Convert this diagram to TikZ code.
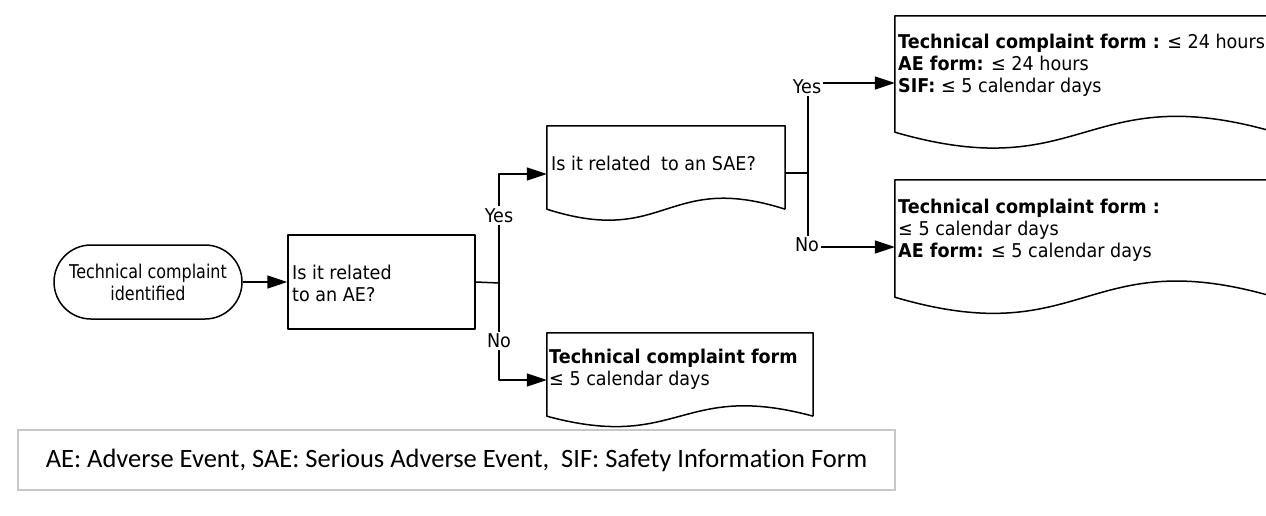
\documentclass[tikz,border=0pt]{standalone}
\usepackage{fontspec}
\setmainfont{DejaVu Sans}[FakeStretch=0.925]
\newfontfamily\termfont{DejaVu Sans}[FakeStretch=0.84]
\newfontfamily\footfont{Carlito}[Ligatures=NoCommon]
\usetikzlibrary{arrows.meta,calc}
\newcommand\drawdoc[2]{%
  \draw[lineb] (#1.south east) -- (#1.north east) -- (#1.north west) -- (#1.south west)
    .. controls ($(#1.south)+(0,#2)$) and ($(#1.south)+(0,-#2)$) .. (#1.south east);}
\begin{document}
\begin{tikzpicture}[x=1pt,y=-1pt,
  lineb/.style={line width=1.5pt, line join=round},
  arr/.style={lineb, -{Triangle[length=20pt,width=13pt]}},
  txt/.style={inner sep=0pt, anchor=west, align=left, font=\fontsize{19}{22}\selectfont},
  docnode/.style={draw=none, inner sep=0pt},
  lbl/.style={fill=white, inner sep=2pt, font=\fontsize{19}{22}\selectfont}]
\clip (0,0) rectangle (1266,516);
\fill[white] (0,0) rectangle (1266,516);
% start terminal
\node[lineb, draw, rounded corners=37pt, minimum width=188pt, minimum height=74pt,
      align=center, font=\termfont\fontsize{19}{22}\selectfont] (start) at (148,282) {Technical complaint\\identified};
% decision box
\node[lineb, draw, minimum width=187pt, minimum height=94pt] (q1) at (381.5,282) {};
\node[txt] (q1t) at (292,283.5) {Is it related\\to an AE?};
% documents
\node[docnode, minimum width=238pt, minimum height=83pt] (sae) at (666,167.5) {};
\drawdoc{sae}{38}
\node[txt] (saet) at (551,163) {Is it related\hspace{5pt} to an SAE?};
\node[docnode, minimum width=266pt, minimum height=83pt] (tcf) at (680,374.5) {};
\drawdoc{tcf}{36}
\node[txt] (tcft) at (549,369) {\textbf{Technical complaint form}\\≤ 5 calendar days};
\node[docnode, minimum width=380pt, minimum height=116pt] (r1) at (1085,74) {};
\drawdoc{r1}{55}
\node[txt] (r1t) at (898,65) {\textbf{Technical complaint form :} ≤ 24 hours\\\textbf{AE form:} ≤ 24 hours\\\textbf{SIF:} ≤ 5 calendar days};
\node[docnode, minimum width=380pt, minimum height=117pt] (r2) at (1085,238.5) {};
\drawdoc{r2}{56}
\node[txt] (r2t) at (898,230) {\textbf{Technical complaint form :}\\≤ 5 calendar days\\\textbf{AE form:} ≤ 5 calendar days};
% connectors
\draw[arr] (start.east) -- (q1.west);
\coordinate (j1) at (499,283);
\draw[lineb] (q1.east) -- (j1);
\draw[arr] (j1) |- ([yshift=-6.5pt]sae.west);
\draw[arr] (j1) |- ([yshift=-5.5pt]tcf.west);
\node[lbl] (yes1) at (499,215.5) {Yes};
\node[lbl] (no1) at (499,341) {No};
\coordinate (j2) at (808,173);
\draw[lineb] ([yshift=-5.5pt]sae.east) -- (j2);
\draw[arr] (j2) |- ([yshift=-9pt]r1.west);
\draw[arr] (j2) |- ([yshift=-8.5pt]r2.west);
\node[lbl] (yes2) at (807,87) {Yes};
\node[lbl] (no2) at (807,245) {No};
% legend
\node[draw={rgb,255:red,200;green,200;blue,200}, line width=1.5pt, minimum width=877pt, minimum height=60pt] (legend) at (456.5,460) {};
\node[font=\footfont\fontsize{26.5}{30}\selectfont, inner sep=0pt] (legendt) at (456.5,460) {AE: Adverse Event, SAE: Serious Adverse Event,\ \ SIF: Safety Information Form};
\end{tikzpicture}
\end{document}
